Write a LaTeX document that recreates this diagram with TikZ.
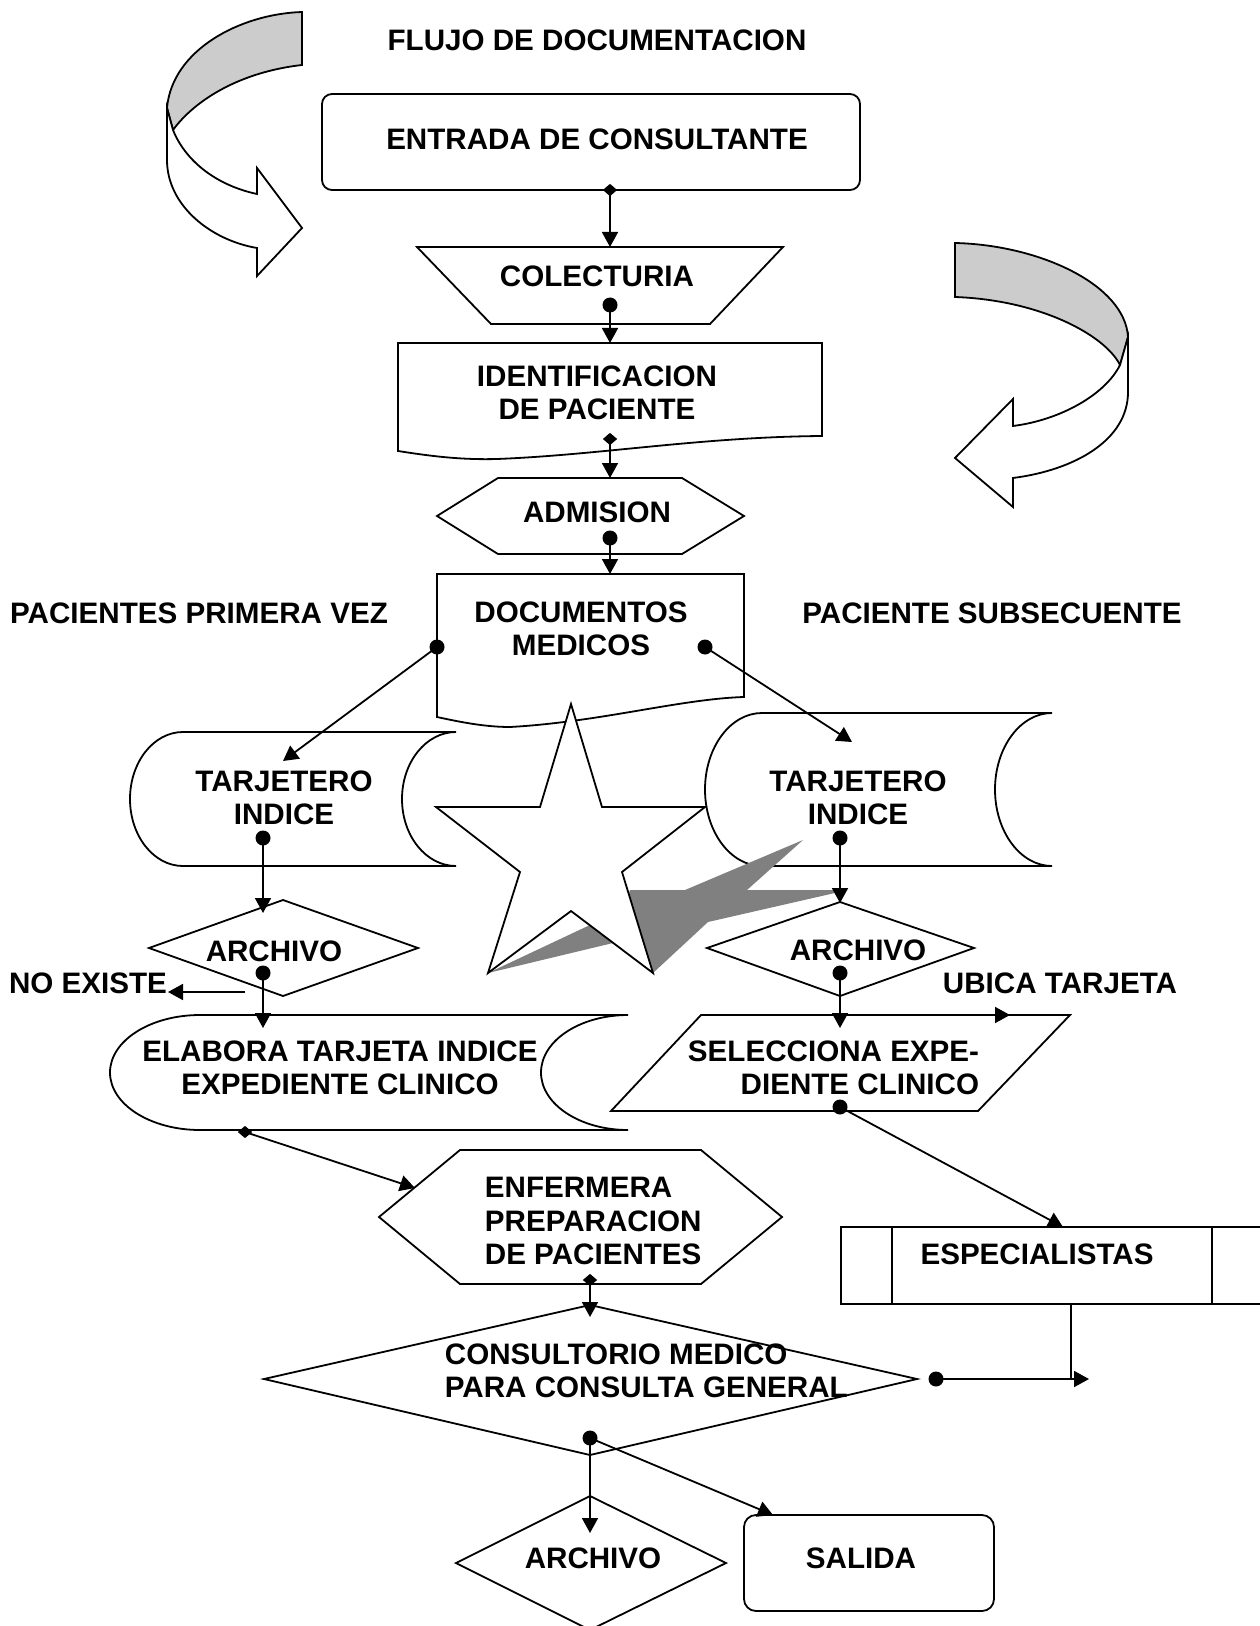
\documentclass[tikz,border=0pt]{standalone}
\usepackage{fontspec}
\setmainfont{Liberation Sans}
\usetikzlibrary{arrows.meta,shapes.geometric}

\begin{document}
\begin{tikzpicture}[x=0.5pt,y=-0.5pt,line width=0.9pt,
    lbl/.style={font=\fontsize{14.8}{16.75}\selectfont\bfseries,inner sep=0pt,align=center},
    shp/.style={draw,fill=white},
    dot/.style={circle,fill,inner sep=0pt,minimum size=7.5pt},
    dmark/.style={diamond,fill,inner sep=0pt,minimum width=7.5pt,minimum height=6.5pt},
    arr/.style={-{Triangle[length=7.5pt,width=8pt]}}]
  \useasboundingbox (0,0) rectangle (1259,1626);

  \draw[fill=black!20] (167,108) .. controls (172,50) and (240,14) .. (302,12) -- (302,65)
    .. controls (240,72) and (195,100) .. (173,130) -- cycle;
  \draw[shp] (173,130) -- (167,108) -- (167,160) .. controls (167,205) and (210,240) .. (257,248)
    -- (257,276) -- (302,228) -- (257,168) -- (257,194) .. controls (215,185) and (185,160) .. cycle;
  \draw[fill=black!20] (955,243) .. controls (1040,245) and (1125,285) .. (1128,337) -- (1120,365)
    .. controls (1105,335) and (1040,300) .. (955,297) -- cycle;
  \draw[shp] (1120,365) -- (1128,337) -- (1128,392) .. controls (1128,440) and (1075,470) .. (1013,478)
    -- (1013,507) -- (955,458) -- (1013,399) -- (1013,426) .. controls (1060,420) and (1105,395) .. cycle;

  \draw[shp,rounded corners=5pt] (322,94) rectangle (860,190);
  \draw[shp] (417,247) -- (783,247) -- (710,324) -- (491,324) -- cycle;
  \draw[shp] (398,343) -- (822,343) -- (822,436) .. controls (700,437) and (600,455) .. (497,459)
    .. controls (460,460) and (430,456) .. (398,451) -- cycle;
  \draw[shp] (437,516) -- (498,478) -- (682,478) -- (744,516) -- (682,554) -- (498,554) -- cycle;
  \draw[shp] (437,574) -- (744,574) -- (744,697) .. controls (680,699) and (600,722) .. (510,727)
    .. controls (485,727) and (460,722) .. (437,717) -- cycle;

  \draw[shp] (183,732) arc[start angle=270,end angle=90,x radius=53,y radius=67]
    -- (456,866) arc[start angle=90,end angle=270,x radius=54,y radius=67] -- cycle;
  \draw[shp] (762,713) arc[start angle=270,end angle=90,x radius=57,y radius=76.5]
    -- (1052,866) arc[start angle=90,end angle=270,x radius=57,y radius=76.5] -- cycle;

  \fill[black!50] (488,973) -- (590,925) -- (625,905) -- (630,890) -- (685,890) -- (803,840)
    -- (747,890) -- (848,890) -- (708,922) -- (653,973) -- (613,943) -- cycle;
  \draw[shp] (571,704) -- (602,807) -- (705,807) -- (622,872) -- (653,973) -- (571,911)
    -- (488,973) -- (520,872) -- (436,807) -- (540,807) -- cycle;

  \draw[shp] (149,948) -- (283,900) -- (418,948) -- (283,996) -- cycle;
  \draw[shp] (707,948) -- (840,902) -- (974,948) -- (840,996) -- cycle;
  \draw[shp] (200,1015) arc[start angle=270,end angle=90,x radius=90,y radius=57.5]
    -- (628,1130) arc[start angle=90,end angle=270,x radius=87,y radius=57.5] -- cycle;
  \draw[shp] (701,1015) -- (1070,1015) -- (978,1111) -- (611,1111) -- cycle;
  \draw[shp] (379,1217) -- (460,1150) -- (701,1150) -- (782,1217) -- (701,1284) -- (460,1284) -- cycle;
  \draw[shp] (841,1227) rectangle (1265,1304);
  \draw (892,1227) -- (892,1304) (1212,1227) -- (1212,1304);
  \draw[shp] (264,1379) -- (590,1305) -- (917,1379) -- (590,1455) -- cycle;
  \draw[shp] (456,1563) -- (590,1496) -- (726,1563) -- (590,1630) -- cycle;
  \draw[shp,rounded corners=6pt] (744,1515) rectangle (994,1611);

  \node[lbl] (titulo) at (597,40) {FLUJO DE DOCUMENTACION};
  \node[lbl] (entrada) at (597,139) {ENTRADA DE CONSULTANTE};
  \node[lbl] (colect) at (597,276) {COLECTURIA};
  \node[lbl] (ident) at (597,393) {IDENTIFICACION\\DE PACIENTE};
  \node[lbl] (admision) at (597,512) {ADMISION};
  \node[lbl] (docmed) at (581,629) {DOCUMENTOS\\MEDICOS};
  \node[lbl] (primera) at (199,613) {PACIENTES PRIMERA VEZ};
  \node[lbl] (subsec) at (992,613) {PACIENTE SUBSECUENTE};
  \node[lbl] (tarjA) at (284,798) {TARJETERO\\INDICE};
  \node[lbl] (tarjB) at (858,798) {TARJETERO\\INDICE};
  \node[lbl] (archA) at (274,951) {ARCHIVO};
  \node[lbl] (archB) at (858,950) {ARCHIVO};
  \node[lbl] (noexiste) at (88,983) {NO EXISTE};
  \node[lbl] (ubica) at (1060,983) {UBICA TARJETA};
  \node[lbl] (elabora) at (340,1068) {ELABORA TARJETA INDICE\\EXPEDIENTE CLINICO};
  \node[lbl,align=right,anchor=east] (selec) at (980,1068) {SELECCIONA EXPE-\\DIENTE CLINICO};
  \node[lbl,align=left,anchor=west] (enfer) at (484,1221) {ENFERMERA\\PREPARACION\\DE PACIENTES};
  \node[lbl] (espec) at (1037,1254) {ESPECIALISTAS};
  \node[lbl,align=left,anchor=west] (consul) at (444,1371) {CONSULTORIO MEDICO\\PARA CONSULTA GENERAL};
  \node[lbl] (archC) at (593,1558) {ARCHIVO};
  \node[lbl] (salida) at (861,1558) {SALIDA};

  \node[dmark] (m1) at (610,190) {};
  \node[dot] (d1) at (610,305) {};
  \node[dmark] (m2) at (610,439) {};
  \node[dot] (d2) at (610,538) {};
  \node[dot] (d3) at (437,647) {};
  \node[dot] (d4) at (705,647) {};
  \node[dot] (d5) at (263,838) {};
  \node[dot] (d6) at (263,973) {};
  \node[dot] (d7) at (840,838) {};
  \node[dot] (d8) at (840,973) {};
  \node[dot] (d9) at (840,1107) {};
  \node[dmark] (m3) at (245,1132) {};
  \node[dmark] (m4) at (590,1280) {};
  \node[dot] (d10) at (936,1379) {};
  \node[dot] (d11) at (590,1438) {};

  \coordinate (t1) at (610,247);
  \coordinate (t2) at (610,343);
  \coordinate (t3) at (610,478);
  \coordinate (t4) at (610,574);
  \coordinate (t5) at (283,761);
  \coordinate (t6) at (852,742);
  \coordinate (t7) at (263,913);
  \coordinate (t8) at (263,1028);
  \coordinate (ne0) at (245,992);
  \coordinate (ne1) at (168,992);
  \coordinate (t9) at (840,903);
  \coordinate (t10) at (840,1028);
  \coordinate (ub0) at (840,1015);
  \coordinate (ub1) at (1010,1015);
  \coordinate (t11) at (1063,1227);
  \coordinate (t12) at (415,1188);
  \coordinate (t13) at (590,1317);
  \coordinate (es0) at (1071,1304);
  \coordinate (es1) at (1071,1379);
  \coordinate (t14) at (1089,1379);
  \coordinate (t15) at (590,1533);
  \coordinate (t16) at (773,1515);

  \draw[arr] (m1.center) -- (t1);
  \draw[arr] (d1.center) -- (t2);
  \draw[arr] (m2.center) -- (t3);
  \draw[arr] (d2.center) -- (t4);
  \draw[arr] (d3.center) -- (t5);
  \draw[arr] (d4.center) -- (t6);
  \draw[arr] (d5.center) -- (t7);
  \draw[arr] (d6.center) -- (t8);
  \draw[arr] (ne0) -- (ne1);
  \draw[arr] (d7.center) -- (t9);
  \draw[arr] (d8.center) -- (t10);
  \draw[arr] (ub0) -- (ub1);
  \draw[arr] (d9.center) -- (t11);
  \draw[arr] (m3.center) -- (t12);
  \draw[arr] (m4.center) -- (t13);
  \draw (es0) -- (es1);
  \draw[arr] (d10.center) -- (t14);
  \draw[arr] (d11.center) -- (t15);
  \draw[arr] (d11.center) -- (t16);
\end{tikzpicture}
\end{document}
